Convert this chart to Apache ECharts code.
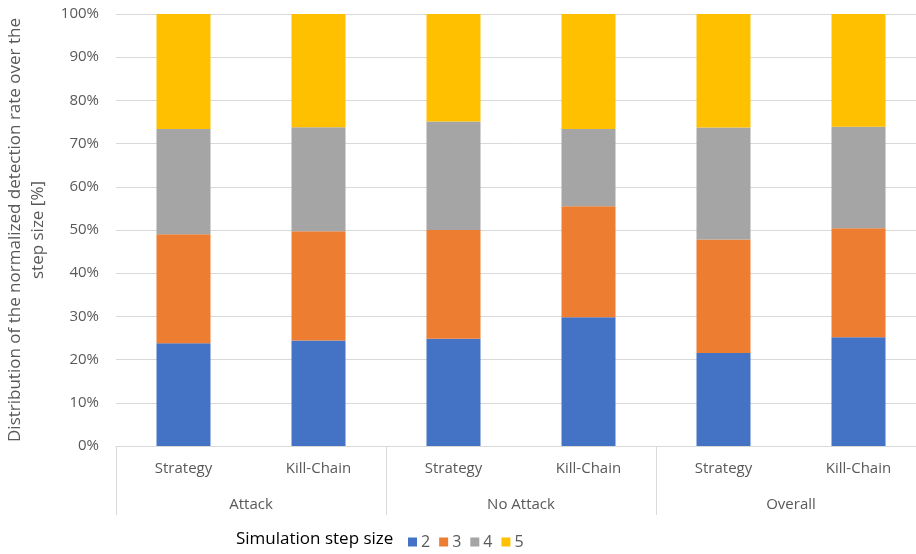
<!DOCTYPE html>
<html>
<head>
<meta charset="utf-8">
<script src="https://cdn.jsdelivr.net/npm/echarts@6/dist/echarts.min.js"></script>
<style>
	html, body { margin: 0; padding: 0; background: #fff; }
	#main { width: 916px; height: 554px; }
</style>
</head>
<body>
<div id="main"></div>
<script>
// categories (inner level) and groups (outer level)
var categories = ['Strategy', 'Kill-Chain', 'Strategy', 'Kill-Chain', 'Strategy', 'Kill-Chain'];
var groups = ['Attack', 'No Attack', 'Overall'];
var stepSizes = ['2', '3', '4', '5'];

// share of each step size [%]
var step2 = [23.8, 24.4, 24.8, 29.8, 21.5, 25.2];
var step3 = [25.2, 25.3, 25.2, 25.7, 26.3, 25.2];
var step4 = [24.4, 24.1, 25.1, 17.9, 25.9, 23.5];
var step5 = [26.6, 26.2, 24.9, 26.6, 26.3, 26.1];

var colors = ['#4472C4', '#ED7D31', '#A5A5A5', '#FFC000'];
var font = 'Open Sans';

var myChart = echarts.init(document.getElementById('main'));

function get_series() {
	var all = [step2, step3, step4, step5];
	var series_data = [];
	for (var i = 0; i < stepSizes.length; i++) {
		series_data.push({
			name : stepSizes[i],
			type : 'bar',
			stack : 'total',
			barWidth : '40%',
			xAxisIndex : 0,
			itemStyle : { color : colors[i] },
			data : all[i]
		});
	}
	return series_data;
}

var option = {
	animation : false,
	textStyle : { fontFamily : font },
	title : {
		text : 'Simulation step size',
		left : 236,
		top : 531,
		padding : 0,
		textStyle : { fontFamily : font, fontSize : 17, fontWeight : 'normal', color : '#000' }
	},
	legend : {
		data : stepSizes,
		left : 403,
		top : 529,
		itemWidth : 9,
		itemHeight : 9,
		itemGap : 9,
		icon : 'rect',
		textStyle : { fontFamily : font, fontSize : 16, color : '#595959', padding : [0, 0, 0, -1] }
	},
	grid : {
		left : 116,
		right : -10,
		top : 14,
		bottom : 108,
		outerBoundsMode : 'none'
	},
	xAxis : [{
		type : 'category',
		data : categories,
		position : 'bottom',
		axisLine : { lineStyle : { color : '#D9D9D9' } },
		axisTick : { show : false },
		axisLabel : { margin : 15, fontSize : 15, color : '#595959', fontFamily : font, interval : 0 }
	}, {
		type : 'category',
		data : groups,
		position : 'bottom',
		axisLine : { show : false },
		axisTick : { show : true, length : 69, lineStyle : { color : '#D9D9D9' } },
		axisLabel : { margin : 51, fontSize : 15, color : '#595959', fontFamily : font, interval : 0 },
		splitLine : { show : false }
	}],
	yAxis : {
		type : 'value',
		min : 0,
		max : 100,
		interval : 10,
		name : 'Distribution of the normalized detection rate over the\nstep size [%]',
		nameLocation : 'middle',
		nameGap : 61,
		nameTextStyle : { fontFamily : font, fontSize : 17, color : '#595959', lineHeight : 23 },
		axisLine : { show : false },
		axisTick : { show : false },
		axisLabel : { formatter : '{value}%', fontSize : 15, color : '#595959', margin : 17, fontFamily : font },
		splitLine : { lineStyle : { color : '#D9D9D9' } }
	},
	series : get_series()
};

myChart.setOption(option);
</script>
</body>
</html>
